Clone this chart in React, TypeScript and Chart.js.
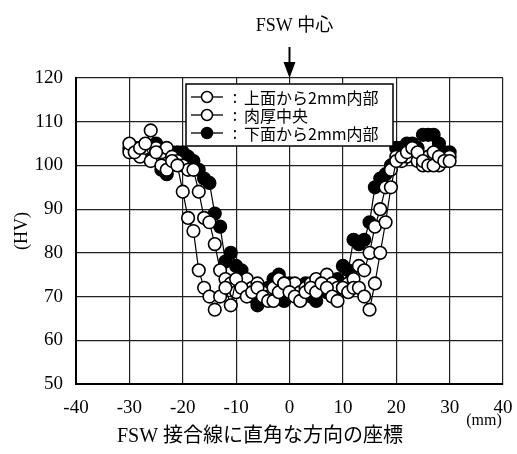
import { useEffect, useRef } from "react";
import { Chart, registerables } from "chart.js";

Chart.register(...registerables);

const positions = [
  -30, -29, -28, -27, -26, -25, -24, -23, -22, -21, -20, -19, -18, -17, -16, -15, -14, -13, -12, -11,
  -10, -9, -8, -7, -6, -5, -4, -3, -2, -1, 0, 1, 2, 3, 4, 5, 6, 7, 8, 9,
  10, 11, 12, 13, 14, 15, 16, 17, 18, 19, 20, 21, 22, 23, 24, 25, 26, 27, 28, 29, 30,
];

// 上面から2mm内部 (open)
const upper2mm = [
  105, 103, 104, 105, 101, 103, 100, 99, 101, 100, 94, 88, 85, 76, 72, 70, 67, 70, 72, 68,
  74, 72, 70, 71, 72, 70, 69, 69, 71, 73, 71, 70, 69, 71, 72, 71, 73, 72, 70, 69,
  72, 71, 72, 72, 70, 67, 73, 80, 87, 95, 101, 102, 103, 104, 103, 101, 100, 100, 102, 101, 101,
];

// 肉厚中央 (open)
const midThickness = [
  103, 104, 102, 104, 108, 104, 103, 104, 102, 101, 100, 99, 99, 94, 88, 87, 82, 76, 74, 73,
  71, 73, 74, 72, 73, 71, 70, 72, 74, 73, 72, 73, 71, 72, 73, 74, 73, 75, 73, 72,
  72, 73, 74, 77, 76, 80, 86, 90, 95, 99, 102, 101, 102, 104, 101, 100, 102, 103, 100, 101, 102,
];

// 下面から2mm内部 (filled)
const lower2mm = [
  104, 103, 104, 103, 103, 105, 99, 98, 103, 103, 103, 102, 101, 99, 97, 96, 89, 86, 78, 80,
  77, 76, 71, 70, 68, 70, 72, 74, 75, 69, 73, 72, 71, 73, 70, 69, 72, 71, 70, 74,
  77, 76, 83, 82, 83, 87, 95, 97, 98, 100, 104, 104, 105, 105, 104, 107, 107, 107, 105, 103, 103,
];

const seriesLabels = ["上面から2mm内部", "肉厚中央", "下面から2mm内部"];
const xTickRange = { min: -40, max: 40, step: 10 };
const yTickRange = { min: 50, max: 120, step: 10 };

const SERIF = "'Liberation Serif', 'Noto Sans CJK JP', serif";
const CJK = "'Noto Sans CJK JP', 'Noto Sans', sans-serif";

const toPoints = (ys: number[]) => positions.map((x, i) => ({ x, y: ys[i] }));

const overlayPlugin = {
  id: "overlay",
  afterDraw(chart: any) {
    const ctx = chart.ctx as CanvasRenderingContext2D;
    const xs = chart.scales.x;
    const area = chart.chartArea;
    ctx.save();
    ctx.fillStyle = "#000";
    ctx.strokeStyle = "#000";

    // FSW 中心 + arrow
    const cx = xs.getPixelForValue(0);
    ctx.font = `18px ${SERIF}`;
    ctx.textAlign = "center";
    ctx.textBaseline = "middle";
    ctx.fillText("FSW 中心", cx + 5, 26);
    ctx.lineWidth = 2;
    ctx.beginPath();
    ctx.moveTo(cx, 47);
    ctx.lineTo(cx, 64);
    ctx.stroke();
    ctx.beginPath();
    ctx.moveTo(cx - 6, 62);
    ctx.lineTo(cx + 6, 62);
    ctx.lineTo(cx, area.top);
    ctx.closePath();
    ctx.fill();

    // axis titles
    ctx.font = `20px ${SERIF}`;
    ctx.fillText("FSW 接合線に直角な方向の座標", 260, 437);
    ctx.font = `16px ${SERIF}`;
    ctx.fillText("(mm)", 484, 421);
    ctx.save();
    ctx.translate(22, 231);
    ctx.rotate(-Math.PI / 2);
    ctx.font = `18px ${SERIF}`;
    ctx.fillText("(HV)", 0, 0);
    ctx.restore();

    // legend box
    const bx = 186, by = 84, bw = 207, bh = 62;
    ctx.fillStyle = "#fff";
    ctx.fillRect(bx, by, bw, bh);
    ctx.lineWidth = 1.5;
    ctx.strokeRect(bx, by, bw, bh);
    const rows = [97, 115, 133];
    const fills = ["#fff", "#fff", "#000"];
    rows.forEach((ry, i) => {
      ctx.lineWidth = 1.3;
      ctx.beginPath();
      ctx.moveTo(191, ry);
      ctx.lineTo(223, ry);
      ctx.stroke();
      ctx.beginPath();
      ctx.arc(207, ry, 5.5, 0, Math.PI * 2);
      ctx.fillStyle = fills[i];
      ctx.fill();
      ctx.lineWidth = 1.5;
      ctx.stroke();
      ctx.fillStyle = "#000";
      ctx.textAlign = "center";
      ctx.font = `16px ${CJK}`;
      ctx.fillText(":", 235, ry);
      ctx.textAlign = "left";
      ctx.fillText(seriesLabels[i], 244, ry + 1);
    });
    ctx.restore();
  },
};

export default function App() {
  const ref = useRef<HTMLCanvasElement>(null);

  useEffect(() => {
    if (!ref.current) return;
    const pointCommon = {
      showLine: true,
      borderColor: "#000",
      borderWidth: 1.2,
      pointRadius: 6.3,
      pointHoverRadius: 6.3,
      pointBorderWidth: 1.6,
      pointBorderColor: "#000",
      tension: 0,
    };
    const chart = new Chart(ref.current, {
      type: "scatter",
      data: {
        datasets: [
          { ...pointCommon, label: seriesLabels[0], data: toPoints(upper2mm), pointBackgroundColor: "#fff" },
          { ...pointCommon, label: seriesLabels[1], data: toPoints(midThickness), pointBackgroundColor: "#fff" },
          { ...pointCommon, label: seriesLabels[2], data: toPoints(lower2mm), pointBackgroundColor: "#000" },
        ],
      },
      options: {
        animation: false,
        responsive: false,
        maintainAspectRatio: false,
        layout: { padding: { top: 78, right: 14, left: 0, bottom: 0 } },
        plugins: { legend: { display: false }, tooltip: { enabled: false } },
        scales: {
          x: {
            type: "linear",
            min: xTickRange.min,
            max: xTickRange.max,
            ticks: {
              stepSize: xTickRange.step,
              color: "#000",
              font: { family: SERIF, size: 19 },
              padding: 13,
              maxRotation: 0,
            },
            grid: { color: "#222", lineWidth: 1.2, drawTicks: false },
            border: { color: "#000", width: 2 },
            afterFit: (s: any) => {
              s.height = 70;
              s.paddingLeft = 0;
              s.paddingRight = 0;
            },
          },
          y: {
            min: yTickRange.min,
            max: yTickRange.max,
            ticks: {
              stepSize: yTickRange.step,
              color: "#000",
              font: { family: SERIF, size: 19 },
              padding: 13,
            },
            grid: { color: "#222", lineWidth: 1.2, drawTicks: false },
            border: { color: "#000", width: 2 },
            afterFit: (s: any) => {
              s.width = 76;
            },
          },
        },
      },
      plugins: [overlayPlugin],
    });
    return () => chart.destroy();
  }, []);

  return (
    <div style={{ position: "absolute", left: 0, top: 0, width: 517, height: 454, background: "#fff" }}>
      <canvas ref={ref} width={517} height={454} style={{ width: 517, height: 454 }} />
    </div>
  );
}
